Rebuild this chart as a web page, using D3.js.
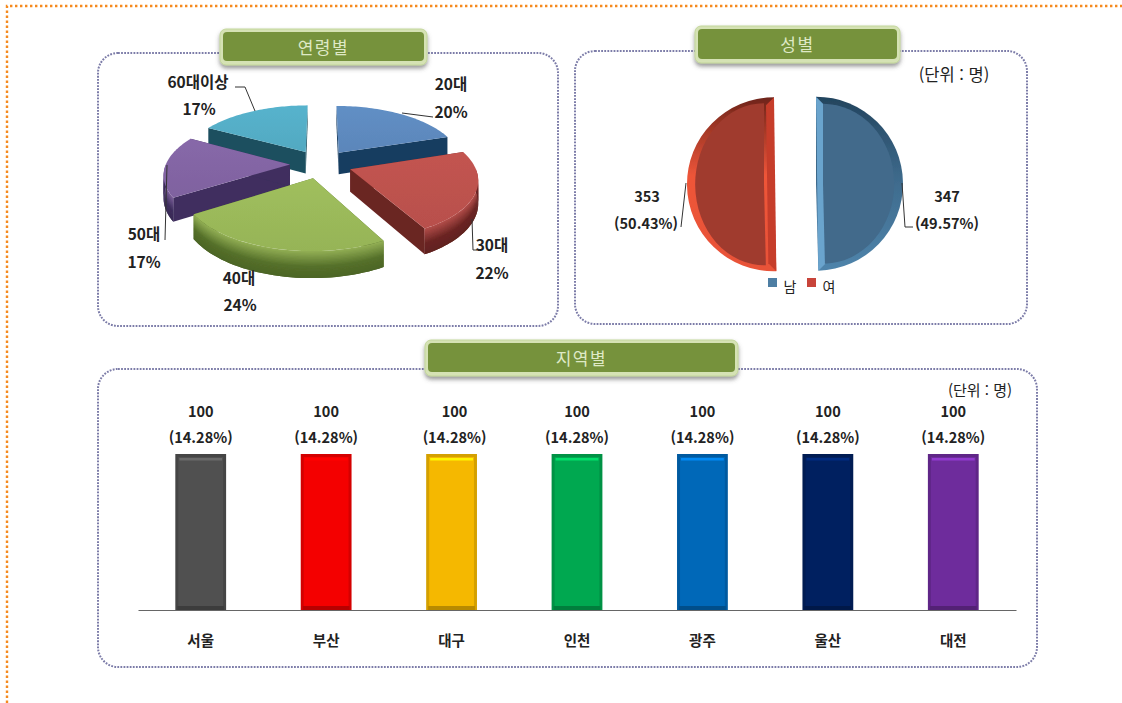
<!DOCTYPE html>
<html lang="ko"><head><meta charset="utf-8">
<script src="https://cdn.jsdelivr.net/npm/d3@7"></script>
<style>
html,body{margin:0;padding:0;background:#fff;overflow:hidden}
text{font-family:"Noto Sans CJK KR","Noto Sans",sans-serif;fill:#222}
</style></head><body><svg id="c" width="1122" height="703"></svg>
<script>
const ageCategories=["20대","30대","40대","50대","60대이상"];
const agePercents=[20,22,24,17,17];
const ageTop=["#5f8cc2","#c0534f","#9dbc5b","#8566a6","#55b0c9"];
const ageWall=["#173c60","#6b2523","#55702a","#3f2f5e","#1b4f5f"];
const sexCategories=["남","여"];
const sexCounts=[347,353];
const sexPercents=["49.57%","50.43%"];
const regions=["서울","부산","대구","인천","광주","울산","대전"];
const regionCounts=[100,100,100,100,100,100,100];
const regionPercents=["14.28%","14.28%","14.28%","14.28%","14.28%","14.28%","14.28%"];
const regionColors=["#505050","#f40000","#f5b800","#00a850","#0068b8","#002060","#6e2c9c"];

const svg=d3.select("#c");
const defs=svg.append("defs");
const sh=defs.append("filter").attr("id","sh").attr("x","-10%").attr("y","-30%").attr("width","120%").attr("height","170%");
sh.append("feDropShadow").attr("dx",0).attr("dy",3).attr("stdDeviation",2).attr("flood-color","#555").attr("flood-opacity",.6);
const soft=defs.append("filter").attr("id","soft");
soft.append("feGaussianBlur").attr("stdDeviation",.5);

// page border
const page=d3.path();page.moveTo(7,703);page.lineTo(7,6);page.lineTo(1122,6);
svg.append("path").attr("d",page.toString()).attr("fill","none").attr("stroke","#f58a1f").attr("stroke-width",2.4).attr("stroke-dasharray","2.4 2.6");

function panel(x0,y0,x1,y1){
  svg.append("rect").attr("x",x0).attr("y",y0).attr("width",x1-x0).attr("height",y1-y0).attr("rx",20)
    .attr("fill","none").attr("stroke","#7c7ca8").attr("stroke-width",2).attr("stroke-dasharray","1.8 1.3");
}
function titleBox(x0,y0,x1,y1,t){
  const g=svg.append("g");
  g.append("rect").attr("x",x0).attr("y",y0).attr("width",x1-x0).attr("height",y1-y0).attr("rx",6)
    .attr("fill","#d5e2b4").attr("stroke","#c3d69b").attr("filter","url(#sh)");
  g.append("rect").attr("x",x0+3).attr("y",y0+3).attr("width",x1-x0-6).attr("height",y1-y0-7).attr("rx",4).attr("fill","#76923c");
  g.append("text").attr("x",(x0+x1)/2).attr("y",(y0+y1)/2-1).attr("text-anchor","middle").attr("dominant-baseline","central")
    .style("fill","#dfe9c6").attr("font-size",17).attr("letter-spacing",1.6).text(t);
}
function label(x,y,t,size,weight){
  svg.append("text").attr("x",x).attr("y",y).attr("text-anchor","middle").attr("dominant-baseline","central")
    .attr("font-size",size||14.5).attr("font-weight",weight||700).text(t);
}
function leader(pts,col){
  svg.append("path").attr("d",d3.line()(pts)).attr("fill","none").attr("stroke",col||"#333").attr("stroke-width",1);
}

panel(98,53,558,326);panel(575,51,1027,324);panel(98,369,1037,667);

// ---- age pie (perspective 3D)
const C={x:321,y:164,R:124,t:.46,p:.15,e:.25,d:22};
function proj(u,v,depth){
  const s=1/(1-C.p*v);
  return [C.x+C.R*u*s, C.y+C.R*C.t*v*s+depth*C.d*s];
}
function pt(a,r,o,depth){return proj(r*Math.sin(a)+o[0],-r*Math.cos(a)+o[1],depth);}
const agePie=d3.pie().sort(null)(agePercents);
const line=d3.line();
const gPie=svg.append("g").attr("filter","url(#soft)");
ageTop.forEach((c,i)=>{
  const lg=defs.append("linearGradient").attr("id","top"+i).attr("x1",0).attr("y1",0).attr("x2",0).attr("y2",1);
  lg.append("stop").attr("offset",0).attr("stop-color",d3.color(c).brighter(.05));
  lg.append("stop").attr("offset",1).attr("stop-color",d3.color(c).darker(.12));
});
[4,0,3,1,2].forEach(i=>{
  const sl=agePie[i],mid=(sl.startAngle+sl.endAngle)/2;
  const o=[C.e*Math.sin(mid),-C.e*Math.cos(mid)];
  const a0=sl.startAngle,a1=sl.endAngle;
  [a0,a1].forEach(a=>{
    gPie.append("path").attr("d",line([pt(a,0,o,0),pt(a,1,o,0),pt(a,1,o,1),pt(a,0,o,1)])+"Z").attr("fill",ageWall[i]);
  });
  const w0=Math.max(a0,Math.PI/2),w1=Math.min(a1,Math.PI*1.5);
  if(w1>w0){
    const as=d3.range(0,41).map(k=>w0+(w1-w0)*k/40);
    const strips=20;
    const shade=d3.scaleLinear().domain([0,.55,1]).range([d3.color(ageTop[i]).darker(.25),ageWall[i],d3.color(ageWall[i]).darker(.3)]);
    d3.range(strips).forEach(k=>{
      const d0=k/strips,d1=Math.min(1,(k+1)/strips+.06);
      const ring=as.map(a=>pt(a,1,o,d0)).concat(as.slice().reverse().map(a=>pt(a,1,o,d1)));
      gPie.append("path").attr("d",line(ring)+"Z").attr("fill",shade(d0));
    });
  }
  const n=48,arcPts=d3.range(0,n+1).map(k=>pt(a0+(a1-a0)*k/n,1,o,0));
  gPie.append("path").attr("d",line([pt(a0,0,o,0)].concat(arcPts))+"Z").attr("fill",`url(#top${i})`);
});
leader([[402,113],[433,117]]);
leader([[472,219],[473,250],[477,250]]);
leader([[167,165],[165,240]]);
leader([[235,87],[245,87],[255,111]]);
const agePos=[[451,83,451,111],[492,244,492,272],[239,277,240,304],[144,233,144,261],[198,81,199,108]];
ageCategories.forEach((c,i)=>{
  label(agePos[i][0],agePos[i][1],c,15.5);
  label(agePos[i][2],agePos[i][3],agePercents[i]+"%",15.5);
});

// ---- sex pie
const sexPie=d3.pie().sort(null)(sexCounts);
const S={x:795,y:184,R:87,e:21};
const rimStops=[[["0","#23445e"],[".5","#3f6c8e"],["1","#4f84ab"]],[["0","#6e241a"],[".45","#ee5539"],["1","#e85238"]]];
const sexFill=["#426a8b","#a03b2f"],sexEdge=["#6ba4cd","#c63c2c"];
const inset=[{dx:7,r:80,sx:.89},{dx:-10,r:81,sx:.85}];
const gSex=svg.append("g").attr("filter","url(#soft)");
sexPie.forEach((sl,i)=>{
  const lg=defs.append("linearGradient").attr("id","rim"+i).attr("x1",0).attr("y1",0).attr("x2",0).attr("y2",1);
  rimStops[i].forEach(s=>lg.append("stop").attr("offset",s[0]).attr("stop-color",s[1]));
  const mid=(sl.startAngle+sl.endAngle)/2;
  const ax=S.x+S.e*Math.sin(mid),ay=S.y-S.e*Math.cos(mid);
  const dir=i===0?1:-1;
  const g=gSex.append("g").attr("transform",`translate(${ax},${ay})`);
  g.append("path").attr("d",d3.arc().innerRadius(0).outerRadius(S.R)(sl)).attr("fill",`url(#rim${i})`);
  const a=i===0?sl.startAngle:sl.endAngle,b=i===0?sl.endAngle:sl.startAngle;
  const tip=(ang,r)=>[r*Math.sin(ang),-r*Math.cos(ang)];
  const t=tip(a,S.R),u=tip(b,S.R),w=8*dir;
  g.append("path").attr("d",line([t,u,[u[0]+w,u[1]-8],[t[0]+w,t[1]+8]])+"Z").attr("fill",sexEdge[i]);
  g.append("path").attr("d",d3.arc().innerRadius(0).outerRadius(inset[i].r)(sl))
    .attr("transform",`translate(${inset[i].dx},0) scale(${inset[i].sx},1)`).attr("fill",sexFill[i]);
});
leader([[902,183],[905,227],[913,227]]);
leader([[686,183],[681,227]]);
label(947,195,sexCounts[0]);label(947,222,`(${sexPercents[0]})`);
label(647,195,sexCounts[1]);label(646,222,`(${sexPercents[1]})`);
const legendCol=d3.scalePoint().domain(sexCategories).range([768,807]);
sexCategories.forEach((c,i)=>{
  svg.append("rect").attr("x",legendCol(c)).attr("y",278).attr("width",9).attr("height",9).attr("fill",i?"#c8443a":"#4d7ea3");
  svg.append("text").attr("x",legendCol(c)+22).attr("y",286).attr("text-anchor","middle").attr("dominant-baseline","central").attr("font-size",14).text(c);
});
label(954,74,"(단위 : 명)",16.5,400);

// ---- region bars
const x=d3.scaleBand().domain(regions).range([138,1016]).paddingInner(.595).paddingOuter(.2975);
const y=d3.scaleLinear().domain([0,100]).range([610,454]);
const gBar=svg.append("g");
regions.forEach((r,i)=>{
  const c=regionColors[i],bx=x(r),bw=x.bandwidth(),by=y(regionCounts[i]),bh=y(0)-by;
  const g=gBar.append("g");
  g.append("rect").attr("x",bx).attr("y",by).attr("width",bw).attr("height",bh).attr("fill",d3.color(c).darker(.4));
  g.append("rect").attr("x",bx+3).attr("y",by+3).attr("width",bw-6).attr("height",bh-7).attr("fill",c);
  g.append("rect").attr("x",bx+4).attr("y",by+4).attr("width",bw-8).attr("height",2.5).attr("fill",d3.color(c).brighter(.8));
  g.append("rect").attr("x",bx+2).attr("y",y(0)-4).attr("width",bw-4).attr("height",4).attr("fill",d3.color(c).darker(.8));
  const cx=bx+bw/2,nudge=i===2?3:0;
  label(cx+nudge,y(regionCounts[i])-44,regionCounts[i]);
  label(cx+nudge,y(regionCounts[i])-17.5,`(${regionPercents[i]})`);
});
const axis=d3.axisBottom(x).tickSize(0).tickPadding(31);
const ax=svg.append("g").attr("transform",`translate(0,${y(0)})`).call(axis);
ax.select(".domain").attr("stroke","#666").attr("stroke-width",1.2);
ax.selectAll("text").attr("font-size",14.5).attr("font-weight",700).attr("font-family",null).attr("dy",".32em");
label(980,389,"(단위 : 명)",15,400);

titleBox(220,29,427,65,"연령별");
titleBox(695,26,900,63,"성별");
titleBox(425,340,738,376,"지역별");
</script></body></html>
